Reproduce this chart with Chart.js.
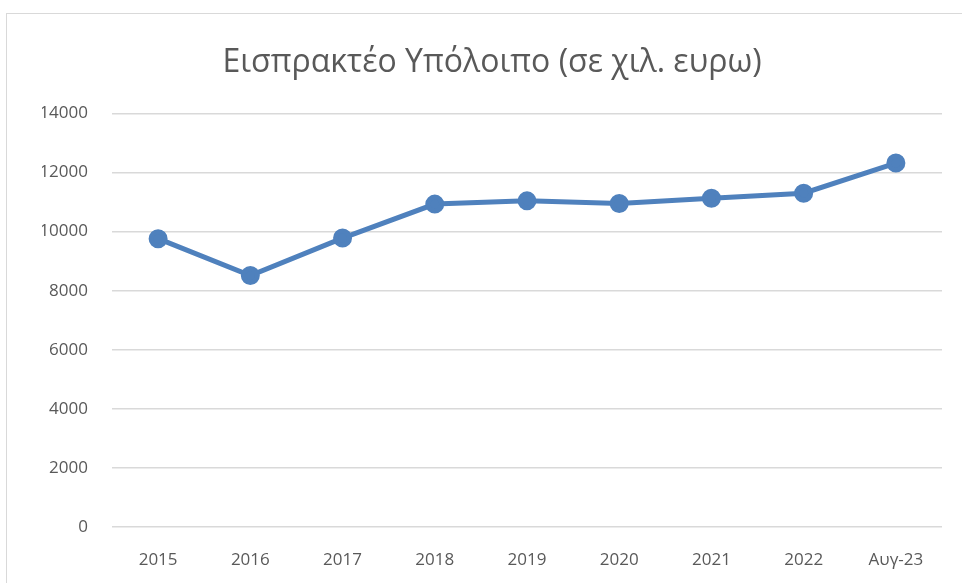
<!DOCTYPE html>
<html>
<head>
<meta charset="utf-8">
<script src="https://cdn.jsdelivr.net/npm/chart.js@4"></script>
<style>
  body { margin: 0; background: #fff; }
  #frame { position: absolute; left: 6px; top: 13px; width: 1000px; height: 620px; border: 1px solid #d9d9d9; }
  #wrap { position: absolute; left: 0; top: 0; width: 962px; height: 583px; }
</style>
</head>
<body>
<div id="frame"></div>
<div id="wrap"><canvas id="chart" width="962" height="583"></canvas></div>
<script>
// data
const labels = ['2015', '2016', '2017', '2018', '2019', '2020', '2021', '2022', 'Αυγ-23'];
const values = [9760, 8510, 9780, 10930, 11040, 10950, 11130, 11300, 12320];
const yTicks = [0, 2000, 4000, 6000, 8000, 10000, 12000, 14000];

const grey = '#595959';
const blue = '#4f81bd';

let chart = new Chart(document.querySelector('#chart'), {
    type: 'line',
    data: {
        labels: labels,
        datasets: [{
            data: values,
            borderColor: blue,
            backgroundColor: blue,
            borderWidth: 5,
            pointRadius: 7,
            pointHoverRadius: 7,
            tension: 0
        }]
    },
    options: {
        responsive: false,
        animation: false,
        // left pad shifts the title centre to match the original
        layout: { padding: { left: 42, right: 20, top: 0, bottom: 0 } },
        plugins: {
            legend: { display: false },
            tooltip: { enabled: false },
            title: {
                display: true,
                text: 'Εισπρακτέο Υπόλοιπο (σε χιλ. ευρω)',
                color: grey,
                font: { family: 'Open Sans', size: 32, weight: 'normal' },
                padding: { top: 44, bottom: 31 }
            }
        },
        scales: {
            x: {
                offset: true,
                grid: { display: false },
                border: { display: false },
                ticks: { color: grey, font: { family: 'Open Sans', size: 17 }, padding: 15, maxRotation: 0 },
                afterFit: s => { s.height = 56; }
            },
            y: {
                min: 0,
                max: yTicks[yTicks.length - 1],
                afterBuildTicks: s => { s.ticks = yTicks.map(v => ({ value: v })); },
                grid: { color: '#d9d9d9', lineWidth: 1.5, drawTicks: false },
                border: { display: false },
                ticks: { color: grey, font: { family: 'Open Sans', size: 17 }, padding: 24, callback: v => String(v) },
                afterFit: s => { s.width = 70; }
            }
        }
    }
});
</script>
</body>
</html>
